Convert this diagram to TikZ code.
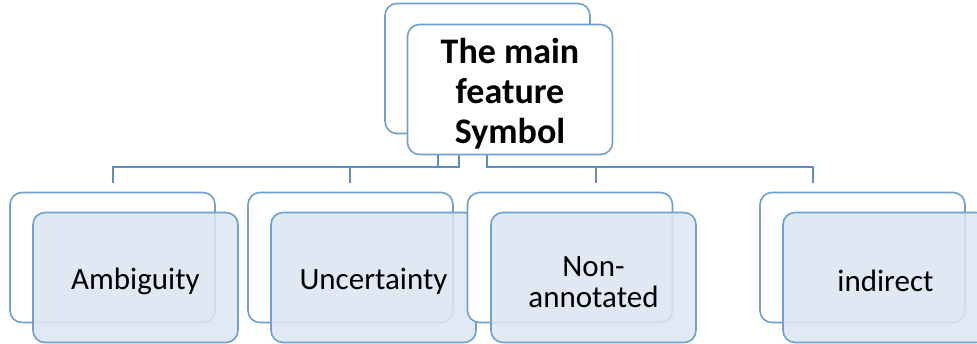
\documentclass[tikz,border=0pt]{standalone}
\usepackage{fontspec}
\setmainfont{Carlito}
\usepackage{tikz}

\definecolor{boxline}{RGB}{110,160,208}
\definecolor{linkline}{RGB}{92,142,192}
\definecolor{boxfill}{RGB}{220,230,242}

% invisible strut that pushes the first text line down
\newcommand{\dropline}[1]{\rule{0pt}{#1}}

\tikzset{
  backbox/.style={draw=boxline,line width=1.6pt,rounded corners=12pt,fill=white,
    minimum width=205pt,minimum height=130pt,inner sep=0pt},
  topbox/.style={backbox,align=center,font=\fontsize{36}{40}\selectfont\bfseries},
  leafbox/.style={backbox,fill=boxfill,fill opacity=0.88,text opacity=1,align=center,
    font=\fontsize{31}{31}\selectfont},
  link/.style={draw=linkline,line width=2pt}
}

\begin{document}
\begin{tikzpicture}[x=1pt,y=-1pt]
\useasboundingbox (0,0) rectangle (977,343);
% root
\node[backbox] (rootback) at (487.5,68.5) {};
\node[topbox] (root) at (510,89.5) {\dropline{34pt}The main\\feature\\Symbol};
% children
\node[backbox] (ambback) at (112.5,257.5) {};
\node[leafbox] (amb) at (135.5,277.5) {\dropline{29pt}Ambiguity};
\node[backbox] (uncback) at (350.5,257.5) {};
\node[leafbox] (unc) at (373.5,277.5) {\dropline{29pt}Uncertainty};
\node[backbox] (nonback) at (570,257.5) {};
\node[leafbox] (non) at (593.5,277.5) {\dropline{29pt}Non-\\annotated};
\node[backbox] (indback) at (862.5,257.5) {};
\node[leafbox] (ind) at (885.5,277.5) {\dropline{29pt}indirect};
% connector ends
\coordinate (tamb) at (113,183);
\coordinate (tunc) at (350,183);
\coordinate (tnon) at (596,183);
\coordinate (tind) at (813,183);
\draw[link] ([xshift=-72pt]root.south) -- ++(0,12) -| (tamb);
\draw[link] ([xshift=-51pt]root.south) -- ++(0,12) -| (tunc);
\draw[link] ([xshift=-23pt]root.south) -- ++(0,12) -| (tnon);
\draw[link] ([xshift=-23pt]root.south) -- ++(0,12) -| (tind);
\end{tikzpicture}
\end{document}
